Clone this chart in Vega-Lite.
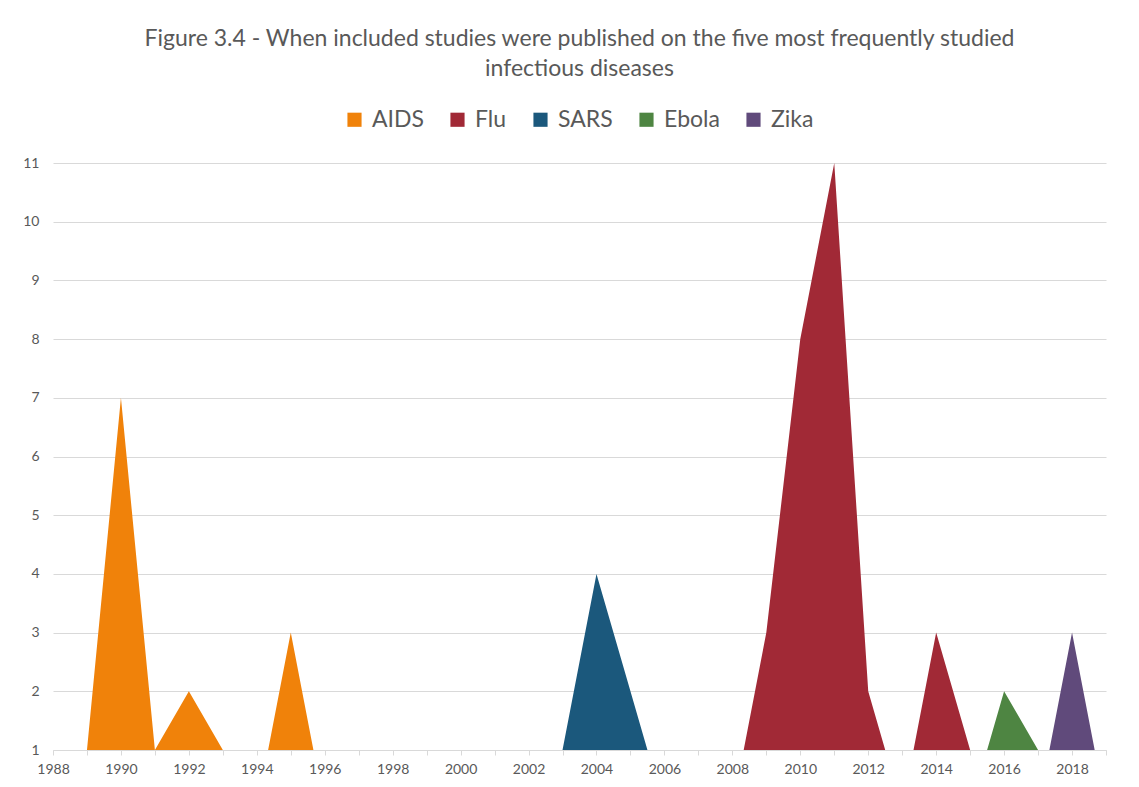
{
  "$schema": "https://vega.github.io/schema/vega-lite/v6.json",
  "width": 1053,
  "height": 587,
  "autosize": {"type": "none"},
  "padding": {"left": 53, "top": 163, "right": 33, "bottom": 37},
  "background": "white",
  "title": {
    "text": ["Figure 3.4 - When included studies were published on the five most frequently studied", "infectious diseases"],
    "font": "Lato",
    "fontSize": 23,
    "fontWeight": "normal",
    "color": "#595959",
    "lineHeight": 30,
    "offset": 27,
    "anchor": "middle"
  },
  "data": {
    "values": [
      {"disease": "AIDS", "year": 1988, "count": 0},
      {"disease": "AIDS", "year": 1989, "count": 1},
      {"disease": "AIDS", "year": 1990, "count": 7},
      {"disease": "AIDS", "year": 1991, "count": 1},
      {"disease": "AIDS", "year": 1992, "count": 2},
      {"disease": "AIDS", "year": 1993, "count": 1},
      {"disease": "AIDS", "year": 1994, "count": 0},
      {"disease": "AIDS", "year": 1995, "count": 3},
      {"disease": "AIDS", "year": 1996, "count": 0},
      {"disease": "SARS", "year": 2002, "count": 0},
      {"disease": "SARS", "year": 2003, "count": 1},
      {"disease": "SARS", "year": 2004, "count": 4},
      {"disease": "SARS", "year": 2005, "count": 2},
      {"disease": "SARS", "year": 2006, "count": 0},
      {"disease": "Flu", "year": 2008, "count": 0},
      {"disease": "Flu", "year": 2009, "count": 3},
      {"disease": "Flu", "year": 2010, "count": 8},
      {"disease": "Flu", "year": 2011, "count": 11},
      {"disease": "Flu", "year": 2012, "count": 2},
      {"disease": "Flu", "year": 2013, "count": 0},
      {"disease": "Flu", "year": 2014, "count": 3},
      {"disease": "Flu", "year": 2015, "count": 1},
      {"disease": "Flu", "year": 2016, "count": 0},
      {"disease": "Ebola", "year": 2015, "count": 0},
      {"disease": "Ebola", "year": 2016, "count": 2},
      {"disease": "Ebola", "year": 2017, "count": 1},
      {"disease": "Ebola", "year": 2018, "count": 0},
      {"disease": "Zika", "year": 2017, "count": 0},
      {"disease": "Zika", "year": 2018, "count": 3},
      {"disease": "Zika", "year": 2019, "count": 0}
    ]
  },
  "mark": {"type": "area", "clip": true, "interpolate": "linear", "opacity": 1},
  "encoding": {
    "x": {
      "field": "year",
      "type": "quantitative",
      "scale": {"domain": [1988, 2019], "nice": false, "zero": false},
      "axis": {
        "title": null,
        "values": [1988,1989,1990,1991,1992,1993,1994,1995,1996,1997,1998,1999,2000,2001,2002,2003,2004,2005,2006,2007,2008,2009,2010,2011,2012,2013,2014,2015,2016,2017,2018,2019],
        "labelExpr": "datum.value % 2 == 0 ? format(datum.value, 'd') : ''",
        "grid": false,
        "domainColor": "#D9D9D9",
        "tickColor": "#D9D9D9",
        "tickSize": 5,
        "labelFont": "Lato",
        "labelFontSize": 14,
        "labelColor": "#595959",
        "labelPadding": 7,
        "labelFlush": false,
        "labelOverlap": false
      }
    },
    "y": {
      "field": "count",
      "type": "quantitative",
      "stack": null,
      "scale": {"domain": [1, 11], "nice": false, "zero": false},
      "axis": {
        "title": null,
        "values": [1,2,3,4,5,6,7,8,9,10,11],
        "domain": false,
        "ticks": false,
        "gridColor": "#D9D9D9",
        "labelFont": "Lato",
        "labelFontSize": 14,
        "labelColor": "#595959",
        "labelPadding": 14
      }
    },
    "color": {
      "field": "disease",
      "type": "nominal",
      "scale": {
        "domain": ["AIDS", "Flu", "SARS", "Ebola", "Zika"],
        "range": ["#F0820A", "#A12936", "#1B587C", "#4E8542", "#604A7B"]
      },
      "legend": {
        "title": null,
        "orient": "none",
        "direction": "horizontal",
        "legendX": 290,
        "legendY": -55,
        "symbolType": "square",
        "symbolSize": 200,
        "symbolStrokeWidth": 0,
        "labelFont": "Lato",
        "labelFontSize": 23,
        "labelColor": "#595959",
        "labelOffset": 6,
        "columnPadding": 22
      }
    }
  },
  "config": {
    "view": {"stroke": null}
  }
}
